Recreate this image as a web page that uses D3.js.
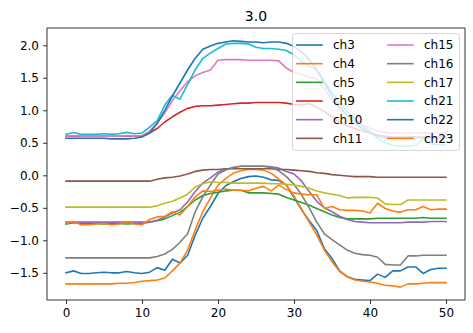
<!DOCTYPE html>
<html><head><meta charset="utf-8">
<script src="https://cdn.jsdelivr.net/npm/d3@7"></script>
<style>body{margin:0;background:#fff}svg{display:block}text{font-family:"DejaVu Sans",sans-serif}</style>
</head><body><svg id="c" width="473" height="333"></svg>
<script>
const title = "3.0";
const xValues = d3.range(0, 51);
const xTicks = [0, 10, 20, 30, 40, 50];
const yTicks = [-1.5, -1.0, -0.5, 0.0, 0.5, 1.0, 1.5, 2.0];

const ch3 = [-1.50,-1.47,-1.51,-1.51,-1.50,-1.49,-1.50,-1.50,-1.48,-1.50,-1.51,-1.49,-1.42,-1.46,-1.29,-1.35,-1.23,-0.92,-0.66,-0.48,-0.28,-0.16,-0.10,-0.05,-0.02,-0.01,-0.03,-0.07,-0.08,-0.15,-0.34,-0.53,-0.70,-0.85,-1.13,-1.28,-1.47,-1.56,-1.60,-1.61,-1.62,-1.52,-1.57,-1.47,-1.47,-1.41,-1.41,-1.51,-1.45,-1.43,-1.43];
const ch4 = [-1.67,-1.67,-1.67,-1.67,-1.67,-1.67,-1.67,-1.66,-1.66,-1.65,-1.63,-1.62,-1.61,-1.58,-1.47,-1.35,-1.15,-0.84,-0.56,-0.35,-0.15,-0.05,0.03,0.07,0.09,0.09,0.08,0.03,-0.06,-0.15,-0.32,-0.52,-0.72,-0.92,-1.15,-1.33,-1.48,-1.56,-1.61,-1.63,-1.64,-1.66,-1.69,-1.70,-1.72,-1.67,-1.67,-1.66,-1.65,-1.65,-1.65];
const ch5 = [-0.75,-0.73,-0.74,-0.74,-0.74,-0.75,-0.74,-0.74,-0.75,-0.74,-0.74,-0.72,-0.70,-0.67,-0.62,-0.57,-0.48,-0.38,-0.31,-0.28,-0.26,-0.24,-0.23,-0.23,-0.27,-0.27,-0.27,-0.28,-0.29,-0.34,-0.38,-0.42,-0.46,-0.51,-0.56,-0.61,-0.65,-0.67,-0.67,-0.67,-0.67,-0.66,-0.66,-0.66,-0.66,-0.66,-0.66,-0.65,-0.66,-0.66,-0.66];
const ch9 = [0.60,0.60,0.60,0.60,0.60,0.60,0.60,0.60,0.60,0.60,0.60,0.65,0.72,0.82,0.90,0.97,1.03,1.06,1.07,1.07,1.08,1.09,1.10,1.11,1.11,1.12,1.12,1.12,1.12,1.11,1.09,1.08,1.10,1.05,0.98,0.90,0.82,0.76,0.72,0.68,0.65,0.62,0.60,0.59,0.59,0.59,0.59,0.59,0.59,0.59,0.59];
const ch10 = [-0.72,-0.72,-0.72,-0.72,-0.72,-0.72,-0.72,-0.72,-0.72,-0.72,-0.72,-0.72,-0.69,-0.64,-0.58,-0.53,-0.41,-0.25,-0.12,-0.04,0.05,0.09,0.12,0.14,0.14,0.14,0.14,0.13,0.11,0.06,0.02,-0.09,-0.25,-0.40,-0.50,-0.56,-0.63,-0.68,-0.71,-0.72,-0.73,-0.73,-0.73,-0.73,-0.73,-0.72,-0.72,-0.72,-0.71,-0.71,-0.71];
const ch11 = [-0.09,-0.09,-0.09,-0.09,-0.09,-0.09,-0.09,-0.09,-0.09,-0.09,-0.09,-0.09,-0.06,-0.04,-0.03,-0.01,0.02,0.06,0.08,0.09,0.09,0.10,0.10,0.10,0.10,0.10,0.10,0.10,0.09,0.09,0.08,0.07,0.06,0.04,0.03,0.01,0.00,-0.01,-0.02,-0.02,-0.02,-0.03,-0.03,-0.03,-0.03,-0.03,-0.03,-0.03,-0.03,-0.03,-0.03];
const ch15 = [0.60,0.61,0.60,0.60,0.60,0.60,0.60,0.60,0.61,0.60,0.61,0.68,0.80,0.96,1.15,1.30,1.44,1.53,1.58,1.62,1.77,1.78,1.78,1.78,1.77,1.77,1.77,1.77,1.76,1.65,1.58,1.55,1.51,1.48,1.33,1.15,1.02,0.93,0.85,0.78,0.72,0.68,0.66,0.65,0.65,0.65,0.65,0.65,0.65,0.65,0.65];
const ch16 = [-1.27,-1.27,-1.27,-1.27,-1.27,-1.27,-1.27,-1.27,-1.27,-1.27,-1.27,-1.27,-1.25,-1.21,-1.14,-1.03,-0.90,-0.56,-0.33,-0.15,0.02,0.08,0.12,0.14,0.14,0.14,0.14,0.12,0.07,-0.02,-0.14,-0.30,-0.50,-0.72,-0.90,-0.99,-1.07,-1.15,-1.20,-1.22,-1.23,-1.26,-1.37,-1.38,-1.38,-1.24,-1.24,-1.23,-1.23,-1.23,-1.23];
const ch17 = [-0.49,-0.49,-0.49,-0.49,-0.49,-0.49,-0.49,-0.49,-0.49,-0.49,-0.49,-0.49,-0.47,-0.43,-0.40,-0.35,-0.29,-0.18,-0.13,-0.10,-0.11,-0.11,-0.12,-0.12,-0.12,-0.12,-0.12,-0.13,-0.13,-0.14,-0.15,-0.17,-0.20,-0.24,-0.27,-0.29,-0.31,-0.35,-0.34,-0.34,-0.34,-0.35,-0.44,-0.45,-0.45,-0.38,-0.38,-0.38,-0.38,-0.38,-0.38];
const ch21 = [0.63,0.66,0.63,0.63,0.63,0.64,0.63,0.64,0.66,0.64,0.65,0.74,0.84,1.08,1.23,1.17,1.40,1.62,1.80,1.88,1.95,2.02,2.03,2.03,2.02,1.97,1.95,1.95,1.94,1.92,1.85,1.75,1.68,1.62,1.45,1.28,1.12,0.98,0.88,0.76,0.67,0.57,0.50,0.46,0.45,0.45,0.46,0.56,0.48,0.47,0.47];
const ch22 = [0.57,0.57,0.57,0.57,0.57,0.57,0.56,0.56,0.56,0.57,0.59,0.65,0.80,1.00,1.22,1.42,1.62,1.80,1.94,1.99,2.03,2.05,2.07,2.06,2.05,2.05,2.04,2.05,2.05,2.03,1.98,1.90,1.78,1.62,1.42,1.22,1.05,0.92,0.80,0.72,0.65,0.60,0.58,0.58,0.58,0.58,0.58,0.58,0.58,0.58,0.58];
const ch23 = [-0.74,-0.71,-0.76,-0.76,-0.75,-0.74,-0.76,-0.75,-0.72,-0.75,-0.76,-0.68,-0.64,-0.63,-0.56,-0.61,-0.48,-0.33,-0.24,-0.25,-0.23,-0.21,-0.23,-0.23,-0.24,-0.20,-0.17,-0.24,-0.15,-0.22,-0.27,-0.29,-0.30,-0.30,-0.51,-0.48,-0.53,-0.54,-0.54,-0.55,-0.58,-0.43,-0.51,-0.55,-0.57,-0.53,-0.53,-0.48,-0.53,-0.52,-0.52];

const seriesNames = ["ch3","ch4","ch5","ch9","ch10","ch11","ch15","ch16","ch17","ch21","ch22","ch23"];
const seriesValues = [ch3,ch4,ch5,ch9,ch10,ch11,ch15,ch16,ch17,ch21,ch22,ch23];
const palette = d3.schemeCategory10;

const W = 473, H = 333;
const m = {left: 47, right: 8, top: 28, bottom: 33};
const svg = d3.select("#c");

const x = d3.scaleLinear().domain([-2.5, 52.5]).range([m.left, W - m.right]);
const y = d3.scaleLinear().domain([-1.918, 2.266]).range([H - m.bottom, m.top]);

const fmtY = v => (v < 0 ? "\u2212" : "") + Math.abs(v).toFixed(1);

// lines
const line = d3.line().x((d, i) => x(xValues[i])).y(d => y(d));
const gLines = svg.append("g");
seriesValues.forEach((vals, k) => {
  gLines.append("path").datum(vals)
    .attr("d", line)
    .attr("fill", "none")
    .attr("stroke", palette[k % 10])
    .attr("stroke-width", 1.6)
    .attr("stroke-linejoin", "round")
    .attr("stroke-linecap", "square");
});

// axes
const xAxis = d3.axisBottom(x).tickValues(xTicks).tickSize(4).tickPadding(4).tickFormat(d3.format("d"));
const yAxis = d3.axisLeft(y).tickValues(yTicks).tickSize(4).tickPadding(4).tickFormat(fmtY);
const gx = svg.append("g").attr("transform", `translate(0,${H - m.bottom})`).call(xAxis);
const gy = svg.append("g").attr("transform", `translate(${m.left},0)`).call(yAxis);
[gx, gy].forEach(g => {
  g.select(".domain").remove();
  g.selectAll(".tick line").attr("stroke", "#000").attr("stroke-width", 0.8);
  g.selectAll(".tick text").attr("fill", "#000").style("font-size", "12px").style("font-family", "DejaVu Sans");
});

// frame
svg.append("rect")
  .attr("x", m.left).attr("y", m.top)
  .attr("width", W - m.left - m.right).attr("height", H - m.top - m.bottom)
  .attr("fill", "none").attr("stroke", "#000").attr("stroke-width", 0.8);

// title
svg.append("text").attr("x", (m.left + W - m.right) / 2).attr("y", 21)
  .attr("text-anchor", "middle").style("font-size", "14px").attr("fill", "#000").text(title);

// legend
const lg = svg.append("g");
lg.append("rect").attr("x", 292.5).attr("y", 33.5).attr("width", 167).attr("height", 117)
  .attr("rx", 3).attr("fill", "#fff").attr("fill-opacity", 0.8)
  .attr("stroke", "#ccc").attr("stroke-opacity", 0.8).attr("stroke-width", 1);
seriesNames.forEach((name, k) => {
  const col = Math.floor(k / 6), row = k % 6;
  const hx = col === 0 ? 296 : 387;
  const yy = 45 + row * 18.67;
  lg.append("line").attr("x1", hx).attr("x2", hx + 26.7).attr("y1", yy).attr("y2", yy)
    .attr("stroke", palette[k % 10]).attr("stroke-width", 1.6);
  lg.append("text").attr("x", hx + 37).attr("y", yy).attr("dy", "0.36em")
    .style("font-size", "12px").attr("fill", "#000").text(name);
});
</script></body></html>
